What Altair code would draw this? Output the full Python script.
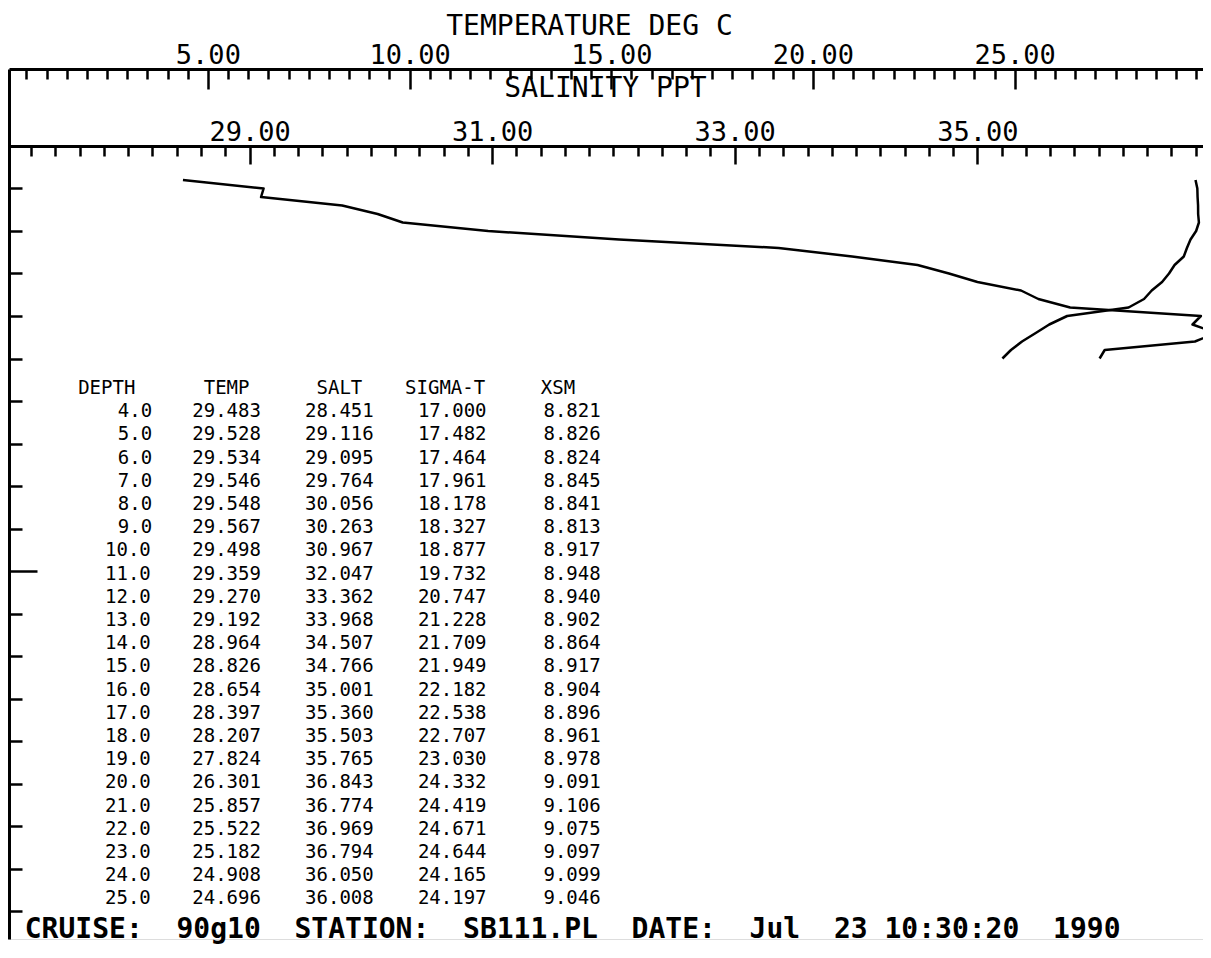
import re
import altair as alt
import pandas as pd

DEPTH = [4.0, 5.0, 6.0, 7.0, 8.0, 9.0, 10.0, 11.0, 12.0, 13.0, 14.0,
         15.0, 16.0, 17.0, 18.0, 19.0, 20.0, 21.0, 22.0, 23.0, 24.0, 25.0]
TEMP = [29.483, 29.528, 29.534, 29.546, 29.548, 29.567, 29.498, 29.359, 29.270, 29.192, 28.964,
        28.826, 28.654, 28.397, 28.207, 27.824, 26.301, 25.857, 25.522, 25.182, 24.908, 24.696]
SALT = [28.451, 29.116, 29.095, 29.764, 30.056, 30.263, 30.967, 32.047, 33.362, 33.968, 34.507,
        34.766, 35.001, 35.360, 35.503, 35.765, 36.843, 36.774, 36.969, 36.794, 36.050, 36.008]
SIGMA_T = [17.000, 17.482, 17.464, 17.961, 18.178, 18.327, 18.877, 19.732, 20.747, 21.228, 21.709,
           21.949, 22.182, 22.538, 22.707, 23.030, 24.332, 24.419, 24.671, 24.644, 24.165, 24.197]
XSM = [8.821, 8.826, 8.824, 8.845, 8.841, 8.813, 8.917, 8.948, 8.940, 8.902, 8.864,
       8.917, 8.904, 8.896, 8.961, 8.978, 9.091, 9.106, 9.075, 9.097, 9.099, 9.046]

HEADER = ["DEPTH", "TEMP", "SALT", "SIGMA-T", "XSM"]

TEMP_TITLE = "TEMPERATURE DEG C"
SAL_TITLE = "SALINITY PPT"
TEMP_LABELS = [5, 10, 15, 20, 25]
TEMP_TICKS = [k * 0.5 for k in range(1, 60)]
SAL_LABELS = [29, 31, 33, 35]
SAL_TICKS = [round(27 + 0.2 * k, 1) for k in range(1, 50)]
DEPTH_TICKS = list(range(5, 95, 5))
DEPTH_MAJOR = 50

CRUISE = "90g10"
STATION = "SB111.PL"
DATE = "Jul 23 10:30:20 1990"

# ---------------- layout ----------------
W, H = 1194, 870
PAD_LEFT, PAD_TOP, PAD_BOTTOM = 1, 61, 5
PX_PER_M = 8.5
SAL_AXIS_Y = 77
PX_PER_DEG = 40.34
PX_PER_PPT = 121.3
TEMP_DOMAIN = [0.07, 0.07 + W / PX_PER_DEG]
SAL_DOMAIN = [27.017, 27.017 + W / PX_PER_PPT]
DEPTH_DOMAIN = [-SAL_AXIS_Y / PX_PER_M, (H - SAL_AXIS_Y) / PX_PER_M]
TABLE_TOP, ROW_STEP, CELL = 319, 23.2, 14.1
FONT = "DejaVu Sans Mono"
INK = "black"

prof = pd.DataFrame({"depth": DEPTH, "temp": TEMP, "salt": SALT})

temp_scale = alt.Scale(domain=TEMP_DOMAIN, nice=False, zero=False)
sal_scale = alt.Scale(domain=SAL_DOMAIN, nice=False, zero=False)
depth_scale = alt.Scale(domain=DEPTH_DOMAIN, nice=False, zero=False, reverse=True)


def label_axis(values, title, offset, title_x, title_y):
    return alt.Axis(
        orient="top", offset=offset, values=values, ticks=False, tickSize=0,
        labelExpr="format(datum.value, '.2f')", labelFont=FONT, labelFontSize=27,
        labelColor=INK, labelBaseline="alphabetic", labelPadding=6,
        labelFlush=False, labelOverlap=False, labelBound=False,
        domain=True, domainColor=INK, domainWidth=3, grid=False,
        title=title, titleFont=FONT, titleFontSize=28, titleFontWeight="normal",
        titleColor=INK, titleX=title_x, titleY=title_y, titleAlign="center",
        titleBaseline="alphabetic", titleAngle=0,
    )


def tick_axis(values, offset, test, major, minor):
    return alt.Axis(
        orient="bottom", offset=offset, values=values, labels=False, domain=False,
        grid=False, title=None, tickColor=INK, tickWidth=2.5,
        tickSize={"condition": {"test": test, "value": major}, "value": minor},
    )


left_axis = alt.Axis(
    orient="right", offset=-W, values=DEPTH_TICKS, labels=False, title=None, grid=False,
    domain=True, domainColor=INK, domainWidth=3, tickColor=INK, tickWidth=2.5,
    tickSize={"condition": {"test": f"datum.value === {DEPTH_MAJOR}", "value": 28}, "value": 13},
)

base = alt.Chart(prof)

temp_line = base.mark_line(color=INK, strokeWidth=2.5, clip=True, strokeJoin="round").encode(
    x=alt.X("temp:Q", scale=temp_scale, axis=label_axis(TEMP_LABELS, TEMP_TITLE, 0, 580, -35)),
    y=alt.Y("depth:Q", scale=depth_scale, axis=left_axis),
    order=alt.Order("depth:Q"),
)
temp_ticks = base.mark_point(opacity=0, size=0).encode(
    x=alt.X("temp:Q", scale=temp_scale,
            axis=tick_axis(TEMP_TICKS, -H, "datum.value % 5 === 0", 20, 10)),
    y=alt.value(0),
)
temp_group = alt.layer(temp_line, temp_ticks).resolve_axis(x="independent")

sal_major_test = "indexof([" + ",".join(str(v) for v in SAL_LABELS + [27, 37]) + "], datum.value) >= 0"
sal_line = base.mark_line(color=INK, strokeWidth=2.5, clip=True, strokeJoin="round").encode(
    x=alt.X("salt:Q", scale=sal_scale,
            axis=label_axis(SAL_LABELS, SAL_TITLE, -SAL_AXIS_Y, 596, -50)),
    y=alt.Y("depth:Q", scale=depth_scale, axis=None),
    order=alt.Order("depth:Q"),
)
sal_ticks = base.mark_point(opacity=0, size=0).encode(
    x=alt.X("salt:Q", scale=sal_scale,
            axis=tick_axis(SAL_TICKS, -(H - SAL_AXIS_Y), sal_major_test, 18, 10)),
    y=alt.value(0),
)
sal_group = alt.layer(sal_line, sal_ticks).resolve_axis(x="independent")

# ---------------- printed table (fixed-width lines split into words) ----------------
lines = [f"{HEADER[0]}    {HEADER[1]}    {HEADER[2]}  {HEADER[3]}   {HEADER[4]}"]
for d, t, s, g, x in zip(DEPTH, TEMP, SALT, SIGMA_T, XSM):
    lines.append(f"{d:6.1f}  {t:6.3f}  {s:6.3f}  {g:6.3f}   {x:5.3f}")
cells = []
for r, line in enumerate(lines):
    for m in re.finditer(r"\S+", line):
        cells.append({"row": r, "col": m.start() + len(m.group()) / 2, "txt": m.group()})
tdf = pd.DataFrame(cells)

table = alt.Chart(tdf).mark_text(
    font=FONT, fontSize=19, align="center", baseline="middle", color=INK
).encode(
    x=alt.X("col:Q", scale=alt.Scale(domain=[0, 40], range=[62.5, 62.5 + 40 * CELL]), axis=None),
    y=alt.Y("row:Q", scale=alt.Scale(domain=[0, len(lines) - 1],
                                     range=[TABLE_TOP, TABLE_TOP + (len(lines) - 1) * ROW_STEP]),
            axis=None),
    text="txt:N",
)

NB = "\u00a0"
footer = (f"CRUISE:{NB*2}{CRUISE}{NB*2}STATION:{NB*2}{STATION}{NB*2}DATE:{NB*2}"
          + DATE.replace(" ", NB, 1).replace("Jul" + NB, "Jul" + NB * 2, 1)
          .replace(" 1990", NB * 2 + "1990"))

chart = alt.layer(temp_group, sal_group, table).resolve_scale(
    x="independent", y="independent"
).properties(
    width=W, height=H,
    padding={"left": PAD_LEFT, "top": PAD_TOP, "right": 0, "bottom": PAD_BOTTOM},
    autosize=alt.AutoSizeParams(type="none"),
    title=alt.TitleParams(text=footer, orient="bottom", anchor="start", offset=-1.5, dx=17,
                          font=FONT, fontSize=28, fontWeight="bold", color=INK,
                          baseline="alphabetic"),
).configure_view(strokeWidth=0, stroke="transparent").configure(background="white")

chart.save("out.html", embed_options={"renderer": "svg", "actions": False})
